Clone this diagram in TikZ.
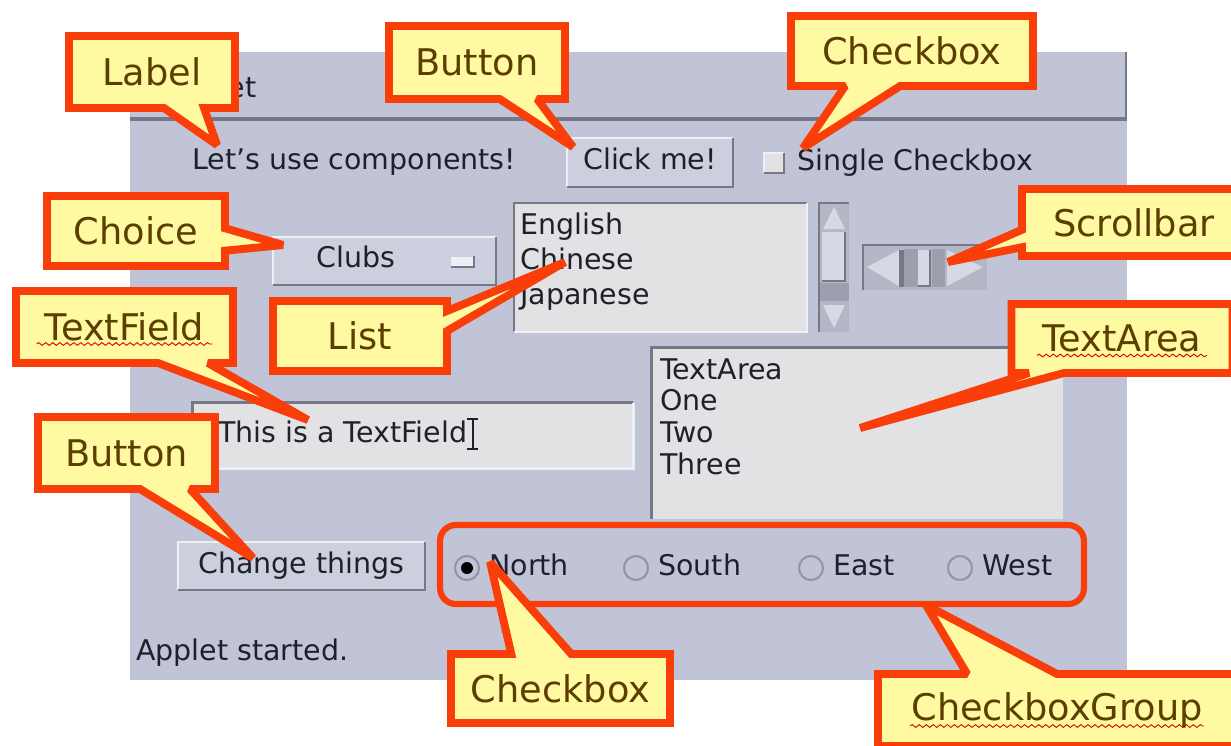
\documentclass[tikz,border=0pt]{standalone}
\usepackage{fontspec}
\usepackage{xcolor}
\usepackage{tikz}
\usetikzlibrary{shapes.callouts,decorations.pathmorphing}

\newfontfamily\appfont{DejaVu Sans}

\definecolor{appgray}{RGB}{192,196,214}
\definecolor{fieldgray}{RGB}{226,226,229}
\definecolor{btngray}{RGB}{204,207,222}
\definecolor{edgedark}{RGB}{118,120,134}
\definecolor{edgelight}{RGB}{238,239,244}
\definecolor{sbmid}{RGB}{180,183,198}
\definecolor{sbdark}{RGB}{156,159,174}
\definecolor{sblight}{RGB}{214,216,228}
\definecolor{inktext}{RGB}{32,32,42}
\definecolor{calloutred}{RGB}{250,62,10}
\definecolor{calloutfill}{RGB}{255,250,162}
\definecolor{callouttext}{RGB}{92,62,0}

\tikzset{
  apptext/.style={font=\appfont\fontsize{16.2}{19}\selectfont, text=inktext,
    inner sep=0pt, text height=12pt, text depth=3.5pt},
  btnbox/.style={fill=btngray, inner sep=0pt},
  fieldbox/.style={fill=fieldgray, inner sep=0pt},
  radio/.style={circle, draw=edgedark!60!appgray, line width=1.2pt,
    minimum size=0.48cm, inner sep=0pt},
  callbox/.style={rectangle callout, draw=calloutred, line width=4.5pt,
    fill=calloutfill, text=callouttext, line join=miter, miter limit=2,
    font=\appfont\fontsize{20.9}{25}\selectfont, inner sep=0pt},
  spell/.style={red!85!black, line width=0.5pt,
    decorate, decoration={snake, segment length=4pt, amplitude=0.8pt}}
}

\begin{document}
\begin{tikzpicture}[x=0.02cm, y=-0.02cm]
    \useasboundingbox (0,0) rectangle (1231,745);

    % applet window
    \fill[appgray] (130,52) rectangle (1127,680);
    \fill[edgedark] (130,117) rectangle (1127,121);
    \draw[edgedark, line width=1.5pt] (1126,52) -- (1126,117);
    \node[apptext, anchor=east] (title) at (257,90) {Applet};

    % first row
    \node[apptext, anchor=west] (letsuse) at (192,162) {Let’s use components!};
    \node[btnbox, minimum width=3.32cm, minimum height=0.98cm] (clickme) at (650,162.5) {};
    \draw[edgelight, line width=1.2pt] (clickme.south west) |- (clickme.north east);
    \draw[edgedark, line width=1.2pt] (clickme.south west) -| (clickme.north east);
    \node[apptext] at (clickme) {Click me!};
    \node[fieldbox, minimum size=0.4cm] (single) at (774,163) {};
    \draw[edgelight, line width=1pt] (single.south west) |- (single.north east);
    \draw[edgedark, line width=1pt] (single.south west) -| (single.north east);
    \node[apptext, anchor=west] (singletxt) at (797,163) {Single Checkbox};

    % choice
    \node[btnbox, minimum width=4.46cm, minimum height=0.96cm] (clubs) at (384.5,261) {};
    \draw[edgelight, line width=1.2pt] (clubs.south west) |- (clubs.north east);
    \draw[edgedark, line width=1.2pt] (clubs.south west) -| (clubs.north east);
    \node[apptext] (clubstxt) at (356,260) {Clubs};
    \node[fill=edgelight, minimum width=0.46cm, minimum height=0.2cm, inner sep=0pt] (drop) at (462.5,261.5) {};
    \draw[edgedark, line width=1pt] (drop.south west) -| (drop.north east);

    % list
    \node[fieldbox, minimum width=5.86cm, minimum height=2.58cm] (list) at (660.5,267.5) {};
    \draw[edgedark, line width=1.2pt] (list.south west) |- (list.north east);
    \draw[edgelight, line width=1.2pt] (list.south west) -| (list.north east);
    \node[apptext, anchor=west] (english) at (520,227) {English};
    \node[apptext, anchor=west] (chinese) at (520,262) {Chinese};
    \node[apptext, anchor=west] (japanese) at (520,297) {Japanese};

    % vertical scrollbar
    \fill[sbmid] (819,203) rectangle (849,332);
    \fill[sbdark] (819,283) rectangle (849,301);
    \draw[edgedark, line width=1.2pt] (819,332) -- (819,203) -- (849,203);
    \fill[sblight] (834,207) -- (823,229) -- (845,229) -- cycle;
    \fill[sblight] (822,232) rectangle (845,281);
    \draw[edgedark, line width=1.2pt] (845,232) |- (822,281);
    \fill[sblight] (823,305) -- (845,305) -- (834,328) -- cycle;

    % horizontal scrollbar
    \fill[sbmid] (863,245) rectangle (987,290);
    \fill[sbdark] (904,249) rectangle (918,287);
    \fill[sbdark] (932,249) rectangle (945,287);
    \draw[edgedark, line width=1.2pt] (863,290) -- (863,245) -- (987,245);
    \fill[sblight] (867,267) -- (899,250) -- (899,286) -- cycle;
    \fill[edgedark] (899,250) rectangle (904,287);
    \fill[sblight] (918,250) rectangle (930,286);
    \draw[edgedark, line width=1.2pt] (930,250) |- (918,286);
    \fill[sblight] (947,250) -- (983,267) -- (947,286) -- cycle;

    % textfield
    \node[fieldbox, minimum width=8.8cm, minimum height=1.3cm] (tfield) at (413,435.5) {};
    \draw[edgedark, line width=1.5pt] (tfield.south west) |- (tfield.north east);
    \draw[edgelight, line width=1.5pt] (tfield.south west) -| (tfield.north east);
    \node[apptext, anchor=west] (tftext) at (218,435) {This is a TextField};
    \draw[inktext, line width=1.3pt] ([xshift=3pt,yshift=-8pt]tftext.east) -- ([xshift=3pt,yshift=9pt]tftext.east)
        ([xshift=0pt,yshift=-8pt]tftext.east) -- ([xshift=6pt,yshift=-8pt]tftext.east)
        ([xshift=0pt,yshift=9pt]tftext.east) -- ([xshift=6pt,yshift=9pt]tftext.east);

    % textarea
    \node[fieldbox, minimum width=8.22cm, minimum height=3.42cm] (tarea) at (857.5,433.5) {};
    \draw[edgedark, line width=1.5pt] (tarea.south west) |- (tarea.north east);
    \node[apptext, anchor=west] (line1) at (660,372) {TextArea};
    \node[apptext, anchor=west] (line2) at (660,403) {One};
    \node[apptext, anchor=west] (line3) at (660,435) {Two};
    \node[apptext, anchor=west] (line4) at (660,467) {Three};

    % button and radio group
    \node[btnbox, minimum width=4.94cm, minimum height=0.96cm] (change) at (301.5,566) {};
    \draw[edgelight, line width=1.2pt] (change.south west) |- (change.north east);
    \draw[edgedark, line width=1.2pt] (change.south west) -| (change.north east);
    \node[apptext] at (change) {Change things};
    \foreach \x/\name/\txt in {467/north/North, 636/south/South, 811/east/East, 960/west/West} {
        \node[radio] (\name) at (\x,568) {};
        \node[apptext, anchor=west] (\name txt) at (\x+22,568) {\txt};
    }
    \fill[black] (north) circle (6);
    \node[draw=calloutred, line width=3.5pt, rounded corners=9pt,
          minimum width=12.88cm, minimum height=1.58cm] (grpbox) at (762,564.5) {};

    \node[apptext, anchor=west] (status) at (136,653) {Applet started.};

    % pointer targets
    \coordinate (labeltip) at (217,145);
    \coordinate (clicktip) at (573,147);
    \coordinate (singletip) at (803,148);
    \coordinate (choicetip) at (283,245);
    \coordinate (listtip) at (565,262);
    \coordinate (tftip) at (308,420);
    \coordinate (scrolltip) at (948,262);
    \coordinate (tatip) at (860,428);
    \coordinate (changetip) at (253,558);
    \coordinate (northtip) at (490,562);
    \coordinate (grouptip) at (926,605);

    % callouts
    \node[callbox, minimum width=3.32cm, minimum height=1.44cm, callout pointer width=0.8cm,
          callout absolute pointer={(labeltip)}] (labelC) at (152,72) {Label};
    \node[callbox, minimum width=3.52cm, minimum height=1.46cm, callout pointer width=0.75cm,
          callout absolute pointer={(clicktip)}] (buttonC) at (477,62.5) {Button};
    \node[callbox, minimum width=4.84cm, minimum height=1.4cm, callout pointer width=1.1cm,
          callout absolute pointer={(singletip)}] (checkC) at (912,51) {Checkbox};
    \node[callbox, minimum width=3.56cm, minimum height=1.4cm, callout pointer width=0.45cm,
          callout absolute pointer={(choicetip)}] (choiceC) at (136,231) {Choice};
    \node[callbox, minimum width=4.48cm, minimum height=1.34cm, callout pointer width=0.35cm,
          callout absolute pointer={(scrolltip)}] (scrollC) at (1134,222.5) {Scrollbar};
    \node[callbox, minimum width=4.34cm, minimum height=1.44cm, callout pointer width=1.0cm,
          callout absolute pointer={(tftip)}] (tfC) at (124.5,327) {TextField};
    \node[callbox, minimum width=3.48cm, minimum height=1.4cm, callout pointer width=0.4cm,
          callout absolute pointer={(listtip)}] (listC) at (360,336) {List};
    \node[callbox, minimum width=4.42cm, minimum height=1.38cm, callout pointer width=0.7cm,
          callout absolute pointer={(tatip)}] (taC) at (1122,338.5) {TextArea};
    \node[callbox, minimum width=3.54cm, minimum height=1.44cm, callout pointer width=1.0cm,
          callout absolute pointer={(changetip)}] (changeC) at (126.5,453) {Button};
    \node[callbox, minimum width=4.38cm, minimum height=1.38cm, callout pointer width=1.2cm,
          callout absolute pointer={(northtip)}] (northC) at (560.5,688.5) {Checkbox};
    \node[callbox, minimum width=7.16cm, minimum height=1.44cm, callout pointer width=1.8cm,
          callout absolute pointer={(grouptip)}] (groupC) at (1057,710) {CheckboxGroup};

    % spell-check marks
    \draw[spell] (tfC.center) ++(-88,17) -- ++(176,0);
    \draw[spell] (taC.center) ++(-85,17) -- ++(170,0);
    \draw[spell] (groupC.center) ++(-147,16) -- ++(294,0);
\end{tikzpicture}
\end{document}
